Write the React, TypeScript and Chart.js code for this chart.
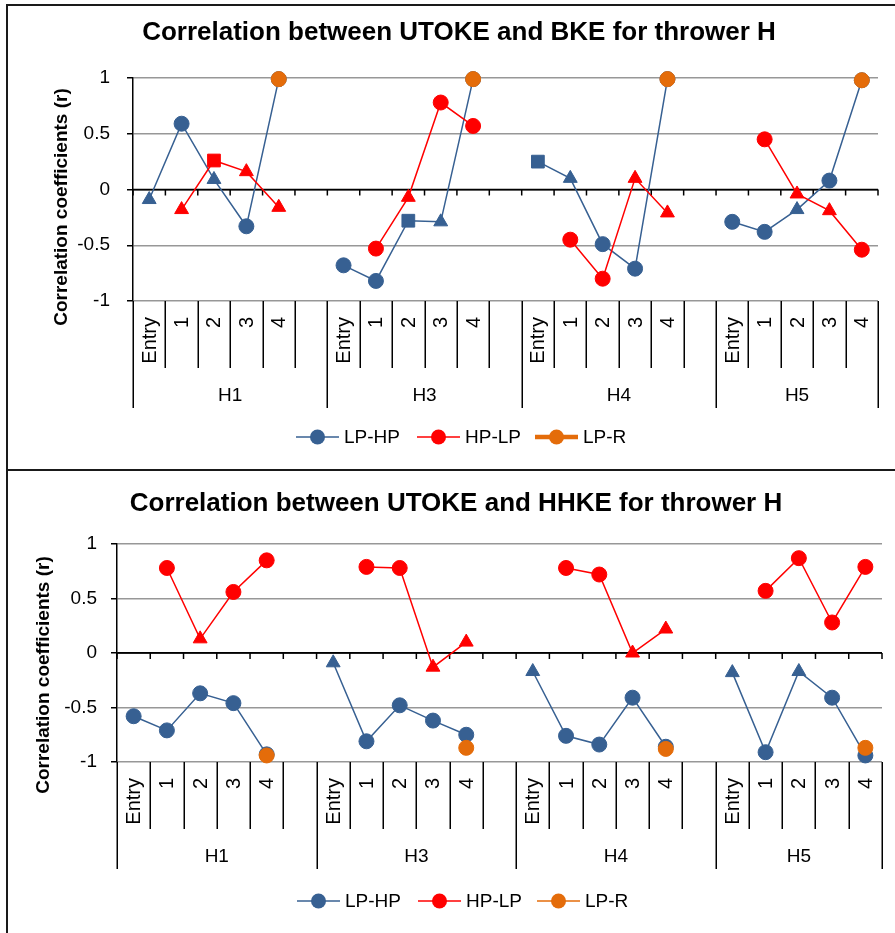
import React, { useEffect, useRef } from "react";
import { Chart, registerables } from "chart.js";

Chart.register(...registerables);

// ---------- categories ----------
const groups = ["H1", "H3", "H4", "H5"];
const stages = ["Entry", "1", "2", "3", "4"];
const seriesNames = ["LP-HP", "HP-LP", "LP-R"];

// ---------- Chart 1: UTOKE vs BKE ----------
const bkeLpHp = [
  -0.09, 0.59, 0.09, -0.33, 0.99,
  -0.68, -0.82, -0.28, -0.29, 0.99,
  0.25, 0.1, -0.49, -0.71, 0.99,
  -0.29, -0.38, -0.18, 0.08, 0.98,
];
const bkeLpHpMarks = ["t", "c", "t", "c", "c", "c", "c", "s", "t", "c", "s", "t", "c", "c", "c", "c", "c", "t", "c", "c"];
const bkeHpLp = [
  null, -0.18, 0.26, 0.16, -0.16,
  null, -0.53, -0.07, 0.78, 0.57,
  null, -0.45, -0.8, 0.1, -0.21,
  null, 0.45, -0.04, -0.19, -0.54,
];
const bkeHpLpMarks = ["c", "t", "s", "t", "t", "c", "c", "t", "c", "c", "c", "c", "c", "t", "t", "c", "c", "t", "t", "c"];
const bkeLpR = [
  null, null, null, null, 0.99,
  null, null, null, null, 0.99,
  null, null, null, null, 0.99,
  null, null, null, null, 0.98,
];

// ---------- Chart 2: UTOKE vs HHKE ----------
const hhkeLpHp = [
  -0.58, -0.71, -0.37, -0.46, -0.93,
  -0.09, -0.81, -0.48, -0.62, -0.75,
  -0.17, -0.76, -0.84, -0.41, -0.86,
  -0.18, -0.91, -0.17, -0.41, -0.94,
];
const hhkeLpHpMarks = ["c", "c", "c", "c", "c", "t", "c", "c", "c", "c", "t", "c", "c", "c", "c", "t", "c", "t", "c", "c"];
const hhkeHpLp = [
  null, 0.78, 0.13, 0.56, 0.85,
  null, 0.79, 0.78, -0.13, 0.1,
  null, 0.78, 0.72, 0.0, 0.22,
  null, 0.57, 0.87, 0.28, 0.79,
];
const hhkeHpLpMarks = ["c", "c", "t", "c", "c", "c", "c", "c", "t", "t", "c", "c", "c", "t", "t", "c", "c", "c", "c", "c"];
const hhkeLpR = [
  null, null, null, null, -0.94,
  null, null, null, null, -0.87,
  null, null, null, null, -0.88,
  null, null, null, null, -0.87,
];

// y axis ticks
const yMin = -1;
const yMax = 1;
const yStep = 0.5;

// ---------- helpers ----------
const FONT = "Arial, 'Liberation Sans', sans-serif";
const BLUE = "#376092";
const RED = "#FF0000";
const ORANGE = "#E46C0A";
const GRID = "#979797";

// 23 slots: each group gets its 5 stages, and a blank slot between groups
const labels: string[] = [];
const groupStart: number[] = [];
groups.forEach((g, gi) => {
  groupStart.push(labels.length);
  stages.forEach((s) => labels.push(s));
  if (gi < groups.length - 1) labels.push("");
});
groupStart.push(labels.length);

function expand<T>(arr: T[], filler: T): T[] {
  const out: T[] = [];
  groups.forEach((_, gi) => {
    for (let k = 0; k < stages.length; k++) out.push(arr[gi * stages.length + k]);
    if (gi < groups.length - 1) out.push(filler);
  });
  return out;
}
const styleOf: Record<string, string> = { c: "circle", t: "triangle", s: "rect" };
const radiusOf: Record<string, number> = { c: 7.5, t: 8, s: 9 };

function makeDataset(label: string, values: (number | null)[], marks: string[] | null, color: string, width: number, order: number) {
  const m = expand(marks || values.map(() => "c"), "c");
  return {
    label,
    data: expand(values, null),
    borderColor: color,
    backgroundColor: color,
    borderWidth: width,
    pointStyle: m.map((k) => styleOf[k]),
    pointRadius: m.map((k) => radiusOf[k]),
    pointBackgroundColor: color,
    pointBorderColor: color,
    pointBorderWidth: 1,
    tension: 0,
    spanGaps: false,
    clip: false as any,
    order,
  };
}

type Spec = {
  title: string;
  titleX: number;
  titleY: number;
  height: number;
  area: { left: number; right: number; top: number; bottom: number };
  tickPad: number;
  yTitleX: number;
  yTitleY: number;
  legendY: number;
  legendX: number[];
  datasets: any[];
};

const W = 895;

const specs: Spec[] = [
  {
    title: "Correlation between UTOKE and BKE for thrower H",
    titleX: 459,
    titleY: 39.5,
    height: 469,
    area: { left: 133, right: 878, top: 78, bottom: 301 },
    tickPad: 17,
    yTitleX: 62,
    yTitleY: 207,
    legendY: 437,
    legendX: [296, 417, 535],
    datasets: [
      makeDataset(seriesNames[0], bkeLpHp, bkeLpHpMarks, BLUE, 1.5, 3),
      makeDataset(seriesNames[1], bkeHpLp, bkeHpLpMarks, RED, 1.5, 2),
      makeDataset(seriesNames[2], bkeLpR, null, ORANGE, 4.5, 1),
    ],
  },
  {
    title: "Correlation between UTOKE and HHKE for thrower H",
    titleX: 456,
    titleY: 42,
    height: 464,
    area: { left: 117, right: 882, top: 75, bottom: 293 },
    tickPad: 14,
    yTitleX: 44,
    yTitleY: 206,
    legendY: 432,
    legendX: [297, 418, 537],
    datasets: [
      makeDataset(seriesNames[0], hhkeLpHp, hhkeLpHpMarks, BLUE, 1.5, 3),
      makeDataset(seriesNames[1], hhkeHpLp, hhkeHpLpMarks, RED, 1.5, 2),
      makeDataset(seriesNames[2], hhkeLpR, null, ORANGE, 1.5, 1),
    ],
  },
];

function makePlugin(spec: Spec) {
  const boundary = (chart: any, i: number) => {
    const { chartArea } = chart;
    const xs = chart.scales.x;
    if (i <= 0) return chartArea.left;
    if (i >= labels.length) return chartArea.right;
    return (xs.getPixelForValue(i - 1) + xs.getPixelForValue(i)) / 2;
  };
  return {
    id: "excelDecor",
    beforeDatasetsDraw(chart: any) {
      const { ctx, chartArea } = chart;
      const y0 = chart.scales.y.getPixelForValue(0);
      ctx.save();
      ctx.strokeStyle = "#000";
      ctx.lineWidth = 1.5;
      ctx.beginPath();
      ctx.moveTo(chartArea.left, y0);
      ctx.lineTo(chartArea.right, y0);
      for (let i = 0; i <= labels.length; i++) {
        const bx = boundary(chart, i);
        ctx.moveTo(bx, y0);
        ctx.lineTo(bx, y0 + 6);
      }
      ctx.stroke();
      ctx.restore();
    },
    afterDraw(chart: any) {
      const { ctx, chartArea } = chart;
      const xs = chart.scales.x;
      const bottom = chartArea.bottom;
      ctx.save();
      // separators
      ctx.strokeStyle = "#000";
      ctx.lineWidth = 1.5;
      ctx.beginPath();
      for (let i = 0; i <= labels.length; i++) {
        const bx = Math.round(boundary(chart, i)) + 0.25;
        const isGroup = groupStart.includes(i);
        ctx.moveTo(bx, bottom);
        ctx.lineTo(bx, bottom + (isGroup ? 107 : 67));
      }
      ctx.stroke();
      // category labels (rotated)
      ctx.fillStyle = "#000";
      ctx.font = `20px ${FONT}`;
      labels.forEach((lab, i) => {
        if (!lab) return;
        const cx = xs.getPixelForValue(i);
        ctx.save();
        ctx.translate(cx + 1, bottom + 16);
        ctx.rotate(-Math.PI / 2);
        ctx.textAlign = "right";
        ctx.textBaseline = "middle";
        ctx.fillText(lab, 0, 0);
        ctx.restore();
      });
      // group labels
      ctx.font = `19px ${FONT}`;
      ctx.textAlign = "center";
      ctx.textBaseline = "middle";
      groups.forEach((g, gi) => {
        const a = boundary(chart, groupStart[gi]);
        const b = boundary(chart, groupStart[gi + 1]);
        ctx.fillText(g, (a + b) / 2, bottom + 95);
      });
      // title
      ctx.font = `bold 26px ${FONT}`;
      ctx.textAlign = "center";
      ctx.textBaseline = "alphabetic";
      ctx.fillText(spec.title, spec.titleX, spec.titleY);
      // y axis title
      ctx.save();
      ctx.translate(spec.yTitleX, spec.yTitleY);
      ctx.rotate(-Math.PI / 2);
      ctx.font = `bold 19px ${FONT}`;
      ctx.textAlign = "center";
      ctx.textBaseline = "middle";
      ctx.fillText("Correlation coefficients (r)", 0, 0);
      ctx.restore();
      // legend
      chart.data.datasets.forEach((ds: any, di: number) => {
        const x0 = spec.legendX[di];
        const y = spec.legendY;
        ctx.strokeStyle = ds.borderColor;
        ctx.lineWidth = ds.borderWidth;
        ctx.beginPath();
        ctx.moveTo(x0, y);
        ctx.lineTo(x0 + 43, y);
        ctx.stroke();
        ctx.fillStyle = ds.borderColor;
        ctx.beginPath();
        ctx.arc(x0 + 21.5, y, 7.5, 0, Math.PI * 2);
        ctx.fill();
        ctx.fillStyle = "#000";
        ctx.font = `19px ${FONT}`;
        ctx.textAlign = "left";
        ctx.textBaseline = "middle";
        ctx.fillText(ds.label, x0 + 48, y + 1);
      });
      ctx.restore();
    },
  };
}

function CorrChart({ spec, top }: { spec: Spec; top: number }) {
  const ref = useRef<HTMLCanvasElement | null>(null);
  useEffect(() => {
    if (!ref.current) return;
    const a = spec.area;
    const chart = new Chart(ref.current, {
      type: "line",
      data: { labels, datasets: spec.datasets },
      options: {
        responsive: false,
        animation: false,
        events: [],
        layout: { padding: { left: 0, right: W - a.right, top: a.top, bottom: spec.height - a.bottom } },
        plugins: { legend: { display: false }, title: { display: false }, tooltip: { enabled: false } },
        scales: {
          x: {
            type: "category",
            offset: true,
            grid: { display: false },
            ticks: { display: false },
            border: { display: false },
            afterFit: (s: any) => {
              s.height = 0;
            },
          },
          y: {
            min: yMin,
            max: yMax,
            ticks: {
              stepSize: yStep,
              color: "#000",
              font: { size: 19, family: FONT },
              padding: spec.tickPad,
              callback: (v: any) => String(Number(v)),
            },
            grid: {
              color: (c: any) => (c.tick && c.tick.value === 0 ? "#000" : GRID),
              lineWidth: 1.5,
              drawTicks: true,
              tickLength: 6,
              tickColor: "#000",
              tickWidth: 1.5,
            },
            border: { display: true, color: "#000", width: 1.5 },
            afterFit: (s: any) => {
              s.width = a.left;
            },
          },
        },
      } as any,
      plugins: [makePlugin(spec)],
    });
    return () => chart.destroy();
  }, [spec]);
  return (
    <canvas
      ref={ref}
      width={W}
      height={spec.height}
      style={{ position: "absolute", left: 0, top, width: W, height: spec.height }}
    />
  );
}

export default function App() {
  return (
    <div
      style={{
        position: "absolute",
        left: 0,
        top: 0,
        width: W,
        height: 933,
        overflow: "hidden",
        background: "#fff",
      }}
    >
      <div
        style={{
          position: "absolute",
          left: 6,
          top: 4,
          width: 900,
          height: 467,
          border: "2px solid #1a1a1a",
          boxSizing: "border-box",
        }}
      />
      <div
        style={{
          position: "absolute",
          left: 6,
          top: 469,
          width: 900,
          height: 480,
          border: "2px solid #1a1a1a",
          boxSizing: "border-box",
        }}
      />
      <CorrChart spec={specs[0]} top={0} />
      <CorrChart spec={specs[1]} top={469} />
    </div>
  );
}
